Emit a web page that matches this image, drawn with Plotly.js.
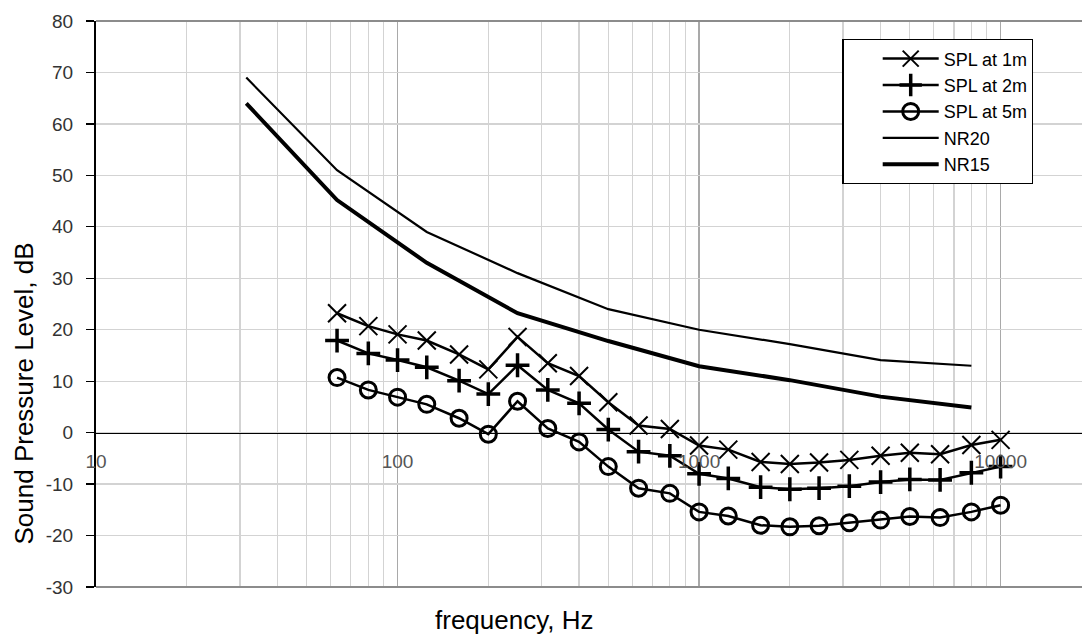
<!DOCTYPE html>
<html>
<head>
<meta charset="utf-8">
<script src="https://cdn.plot.ly/plotly-3.0.1.min.js"></script>
<style>html,body{margin:0;padding:0;background:#fff;}#chart{width:1082px;height:635px;}</style>
</head>
<body>
<div id="chart"></div>
<script>
// Third-octave band frequencies (Hz) for measured SPL
const freqSPL = [63, 80, 100, 125, 160, 200, 250, 315, 400, 500, 630, 800, 1000, 1250, 1600, 2000, 2500, 3150, 4000, 5000, 6300, 8000, 10000];
const spl1m = [23.2, 20.7, 19.1, 17.9, 15.2, 12.3, 18.6, 13.5, 11.0, 5.9, 1.4, 0.7, -2.5, -3.3, -5.7, -6.1, -5.8, -5.3, -4.5, -3.9, -4.2, -2.4, -1.4];
const spl2m = [17.9, 15.4, 14.1, 12.7, 10.1, 7.5, 13.1, 8.3, 5.7, 0.6, -3.7, -4.5, -8.0, -8.9, -10.6, -11.0, -10.8, -10.4, -9.6, -9.1, -9.2, -7.8, -6.6];
const spl5m = [10.7, 8.3, 6.9, 5.5, 2.8, -0.3, 6.1, 0.8, -1.8, -6.6, -10.8, -11.8, -15.4, -16.2, -18.0, -18.3, -18.1, -17.5, -17.0, -16.3, -16.5, -15.4, -14.1];
// Octave band frequencies (Hz) for NR curves
const freqNR = [31.5, 63, 125, 250, 500, 1000, 2000, 4000, 8000];
const nr20 = [69.0, 51.0, 39.0, 31.0, 24.0, 20.0, 17.2, 14.1, 13.0];
const nr15 = [64.0, 45.2, 33.0, 23.2, 17.8, 12.9, 10.2, 7.0, 4.9];
// Axis ticks
const xTickVals = [10, 100, 1000, 10000];
const xTickText = ["10", "100", "1000", "10000"];
const xMinorVals = [20, 30, 40, 50, 60, 70, 80, 90, 200, 300, 400, 500, 600, 700, 800, 900, 2000, 3000, 4000, 5000, 6000, 7000, 8000, 9000];
const yTickVals = [-30, -20, -10, 0, 10, 20, 30, 40, 50, 60, 70, 80];
const yTickText = ["-30", "-20", "-10", "0", "10", "20", "30", "40", "50", "60", "70", "80"];
const seriesNames = ["SPL at 1m", "SPL at 2m", "SPL at 5m", "NR20", "NR15"];
const xTitle = "frequency, Hz";
const yTitle = "Sound Pressure Level, dB";

const FONT = "Liberation Sans, Arial, sans-serif";

const traces = [
  {x: freqSPL, y: spl1m, name: seriesNames[0], mode: "lines+markers",
   line: {color: "#000", width: 2.5},
   marker: {symbol: "x-thin-open", size: 18, color: "#000", line: {color: "#000", width: 2}}},
  {x: freqSPL, y: spl2m, name: seriesNames[1], mode: "lines+markers",
   line: {color: "#000", width: 2.5},
   marker: {symbol: "cross-thin-open", size: 17, color: "#000", line: {color: "#000", width: 3.5}}},
  {x: freqSPL, y: spl5m, name: seriesNames[2], mode: "lines+markers",
   line: {color: "#000", width: 2.5},
   marker: {symbol: "circle-open", size: 16, color: "#000", line: {color: "#000", width: 3}}},
  {x: freqNR, y: nr20, name: seriesNames[3], mode: "lines",
   line: {color: "#000", width: 2.2}},
  {x: freqNR, y: nr15, name: seriesNames[4], mode: "lines",
   line: {color: "#000", width: 4}}
];

const layout = {
  width: 1082, height: 635,
  margin: {l: 96, r: 0, t: 21, b: 48, pad: 0},
  paper_bgcolor: "#fff", plot_bgcolor: "#fff",
  font: {family: FONT, color: "#000", size: 19},
  showlegend: true,
  xaxis: {
    type: "log", range: [0.9999, 4.27], fixedrange: true,
    anchor: "free", position: 30 / 110,
    tickmode: "array", tickvals: xTickVals, ticktext: xTickText,
    tickfont: {family: FONT, size: 19, color: "#555"},
    ticks: "", ticklabelstandoff: 11,
    showgrid: true, gridcolor: "#a9a9a9", gridwidth: 1.3,
    minor: {tickmode: "array", tickvals: xMinorVals, showgrid: true, gridcolor: "#d3d3d3", gridwidth: 1.3, ticks: ""},
    showline: true, linecolor: "#000", linewidth: 1.3,
    zeroline: false
  },
  yaxis: {
    range: [-30, 80], fixedrange: true,
    tickmode: "array", tickvals: yTickVals, ticktext: yTickText,
    tickfont: {family: FONT, size: 19, color: "#333"},
    ticks: "outside", ticklen: 8, tickwidth: 1.3, tickcolor: "#000",
    ticklabelstandoff: 9,
    showgrid: true, gridcolor: "#d3d3d3", gridwidth: 1.3,
    showline: true, linecolor: "#000", linewidth: 2,
    zeroline: false
  },
  legend: {
    x: 0.757, y: 0.968, xanchor: "left", yanchor: "top",
    bgcolor: "#fff", bordercolor: "#000", borderwidth: 1.3,
    font: {family: FONT, size: 18, color: "#000"},
    indentation: 34, itemwidth: 56, tracegroupgap: 0
  },
  shapes: [
    {type: "line", xref: "paper", yref: "paper", x0: 0, x1: 1, y0: 1, y1: 1, line: {color: "#8c8c8c", width: 2}},
    {type: "line", xref: "paper", yref: "paper", x0: 0, x1: 1, y0: 0, y1: 0, line: {color: "#8c8c8c", width: 2}}
  ],
  annotations: [
    {text: xTitle, xref: "paper", yref: "paper", x: 0.4244, y: -0.0585,
     xanchor: "center", yanchor: "middle", showarrow: false,
     font: {family: FONT, size: 26, color: "#000"}},
    {text: yTitle, xref: "paper", yref: "paper", x: -0.0735, y: 0.341, textangle: -90,
     xanchor: "center", yanchor: "middle", showarrow: false,
     font: {family: FONT, size: 26, color: "#000"}}
  ]
};

Plotly.newPlot("chart", traces, layout, {staticPlot: true, displayModeBar: false});
</script>
</body>
</html>
